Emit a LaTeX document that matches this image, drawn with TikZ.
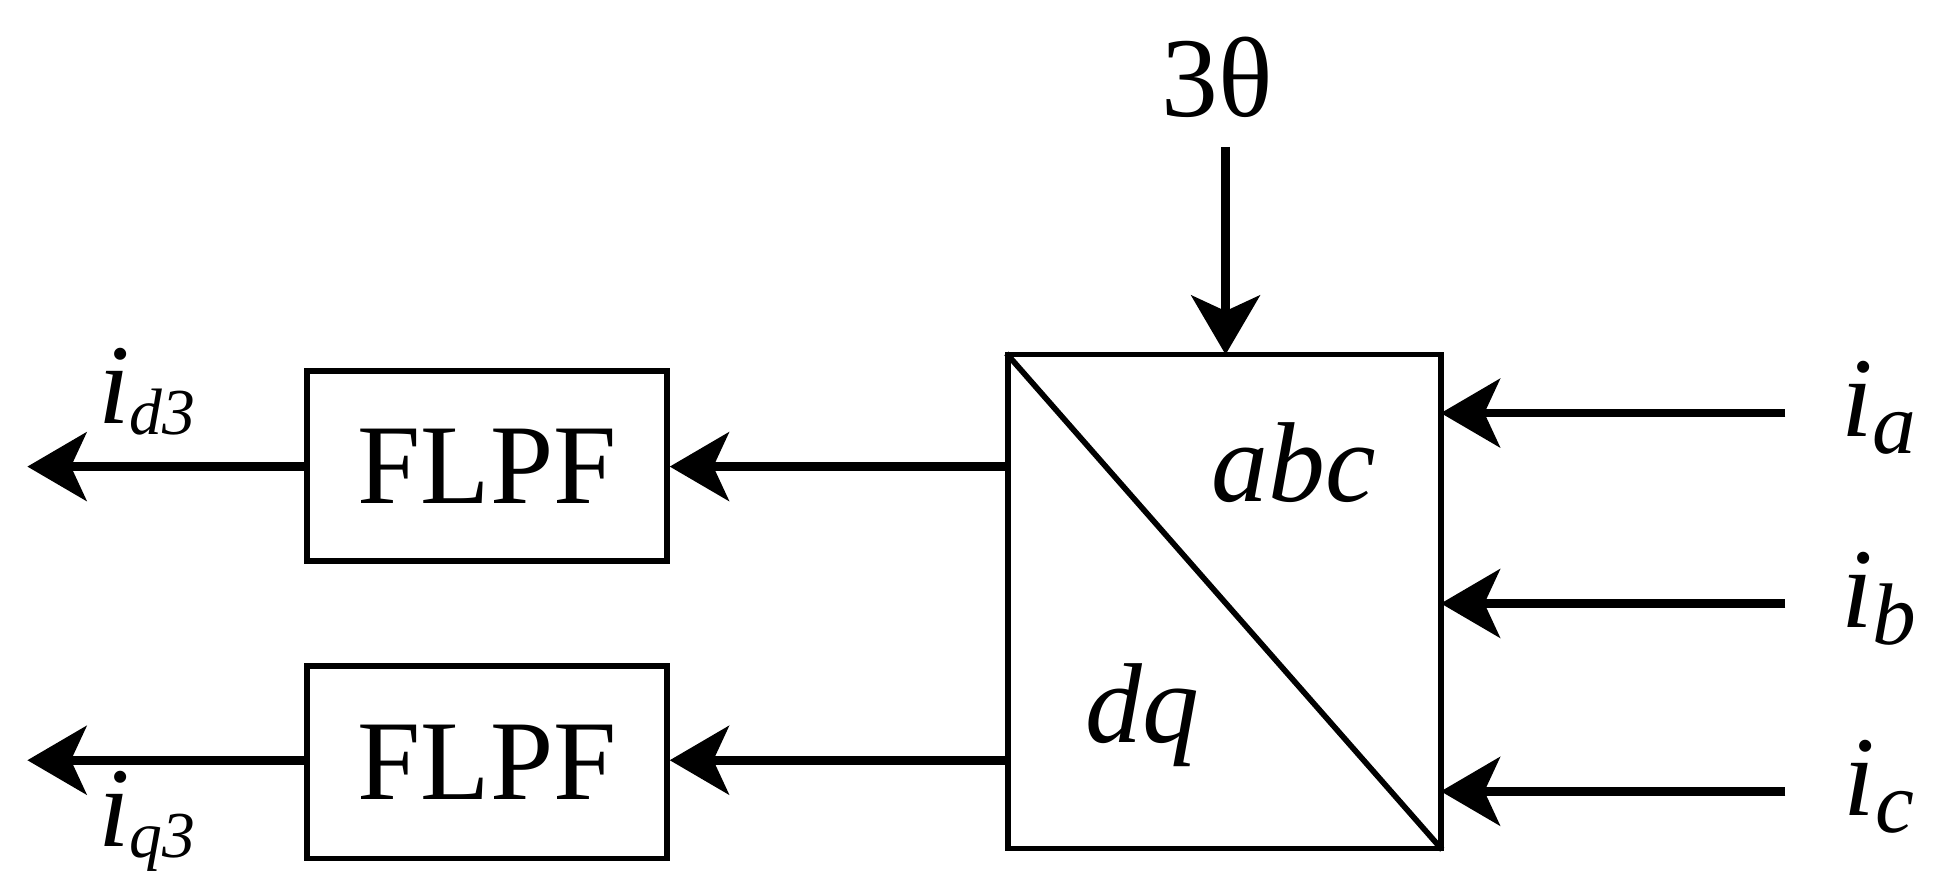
\documentclass[tikz,border=0pt]{standalone}
\usepackage{fontspec}
\setmainfont{Liberation Serif}
\usetikzlibrary{arrows.meta}
\begin{document}
\begin{tikzpicture}[x=0.02cm,y=-0.02cm,
  blk/.style={draw,line width=2.6pt,inner sep=0pt},
  sig/.style={line width=4pt,-{Stealth[length=0.95cm,width=1.1cm,inset=0.25cm]}},
  lab/.style={font=\fontsize{52}{56}\selectfont},
  ilab/.style={font=\itshape\fontsize{52}{56}\selectfont},
  sub/.style={font=\itshape\fontsize{34}{36}\selectfont,inner sep=0pt}]
\useasboundingbox (0,0) rectangle (1560,720);
\node[blk,minimum width=348*0.02cm,minimum height=397*0.02cm] (T) at (984,483.5) {};
\draw[line width=2.6pt,line cap=butt,shorten <=1pt,shorten >=1pt] (T.north west) -- (T.south east);
\node[blk,minimum width=289*0.02cm,minimum height=153*0.02cm,lab] (F1) at (391.5,374.5) {FLPF};
\node[blk,minimum width=289*0.02cm,minimum height=155*0.02cm,lab] (F2) at (391.5,612.5) {FLPF};
\node[lab] (th) at (978,62) {3θ};
\coordinate (thS) at (985,118);
\draw[sig] (thS) -- (985,285);
\node[ilab] (abc) at (1040,372) {abc};
\node[ilab] (dq) at (918,575) {dq};
\coordinate (T1) at (810,375); \coordinate (T2) at (810,611);
\draw[sig] (T1) -- (F1.east |- T1);
\draw[sig] (T2) -- (F2.east |- T2);
\coordinate (O1) at (22,375); \coordinate (O2) at (22,611);
\draw[sig] (F1.west |- O1) -- (O1);
\draw[sig] (F2.west |- O2) -- (O2);
\foreach \n/\y in {a/332,b/485,c/636}{
  \coordinate (s\n) at (1435,\y);
  \draw[sig] (s\n) -- (1158,\y);
  \node[ilab] (l\n) at (1510,\y-4) {i\raisebox{-0.15em}{\fontsize{40}{40}\selectfont\n}};
}
\node[ilab] (ld) at (118,315) {i\raisebox{-0.1em}{\fontsize{30}{30}\selectfont d3}};
\node[ilab] (lq) at (118,660) {i\raisebox{-0.1em}{\fontsize{30}{30}\selectfont q3}};
\end{tikzpicture}
\end{document}
